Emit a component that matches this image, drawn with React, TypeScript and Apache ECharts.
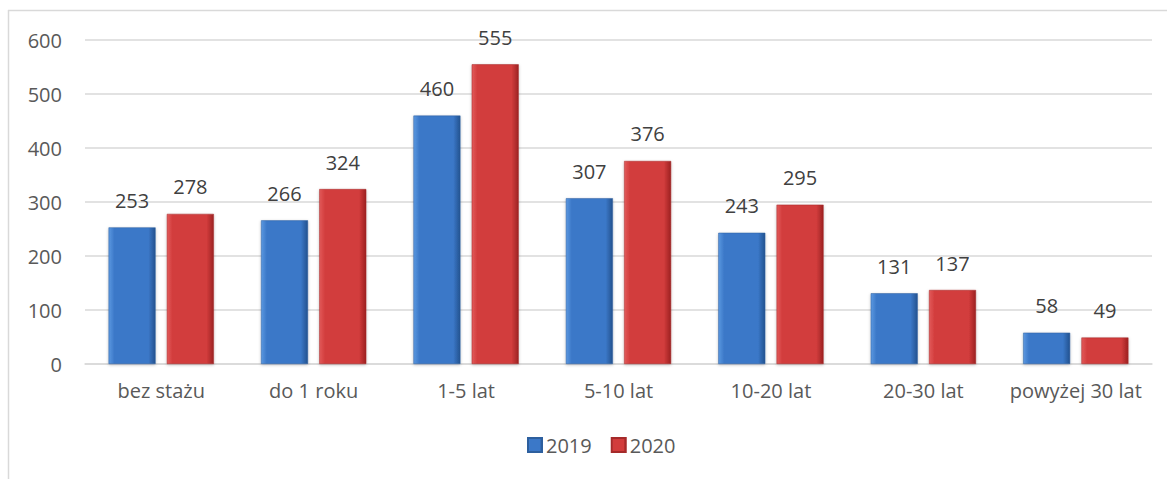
import React, { useEffect, useRef } from "react";
import * as echarts from "echarts";

const categories = ["bez stażu", "do 1 roku", "1-5 lat", "5-10 lat", "10-20 lat", "20-30 lat", "powyżej 30 lat"];
const values2019 = [253, 266, 460, 307, 243, 131, 58];
const values2020 = [278, 324, 555, 376, 295, 137, 49];
const seriesNames = ["2019", "2020"];

const FONT = "'Open Sans', sans-serif";

function barGradient(light: string, base: string, dark: string) {
  return new echarts.graphic.LinearGradient(0, 0, 1, 0, [
    { offset: 0, color: light },
    { offset: 0.12, color: base },
    { offset: 0.85, color: base },
    { offset: 1, color: dark },
  ]);
}

export default function App() {
  const ref = useRef<HTMLDivElement>(null);
  useEffect(() => {
    const chart = echarts.init(ref.current!, null, { renderer: "svg" });
    const labelCfg = {
      show: true,
      position: "top" as const,
      distance: 17,
      color: "#404040",
      fontSize: 20,
      fontFamily: FONT,
    };
    chart.setOption({
      animation: false,
      backgroundColor: "#ffffff",
      textStyle: { fontFamily: FONT },
      graphic: [
        { type: "line", shape: { x1: 8, y1: 10.5, x2: 1167, y2: 10.5 }, style: { stroke: "#d9d9d9", lineWidth: 1.5 } },
        { type: "line", shape: { x1: 8.5, y1: 10, x2: 8.5, y2: 479 }, style: { stroke: "#d9d9d9", lineWidth: 1.5 } },
      ],
      grid: { left: 85, right: 15, top: 40, bottom: 115, containLabel: false },
      legend: {
        data: seriesNames,
        top: 430,
        left: 522,
        itemWidth: 14,
        itemHeight: 14,
        itemGap: 19,
        icon: "rect",
        textStyle: { fontSize: 20, color: "#595959", fontFamily: FONT, padding: [0, 0, 0, -1] },
      },
      xAxis: {
        type: "category",
        data: categories,
        axisTick: { show: false },
        axisLine: { show: true, lineStyle: { color: "#d9d9d9", width: 1.5 } },
        axisLabel: { color: "#595959", fontSize: 20, fontFamily: FONT, margin: 16, interval: 0 },
      },
      yAxis: {
        type: "value",
        min: 0,
        max: 600,
        interval: 100,
        axisLine: { show: false },
        axisTick: { show: false },
        splitLine: { lineStyle: { color: "#d9d9d9", width: 1.5 } },
        axisLabel: { color: "#595959", fontSize: 20, fontFamily: FONT, margin: 23 },
      },
      series: [
        {
          name: seriesNames[0],
          type: "bar",
          data: values2019,
          barWidth: 47,
          barGap: "24%",
          itemStyle: {
            color: barGradient("#5b98e0", "#3b78c8", "#23528f"),
            borderColor: "#2d5f9e",
            borderWidth: 0.5,
            shadowColor: "rgba(0,0,0,0.25)",
            shadowBlur: 3,
            shadowOffsetY: 1,
          },
          label: labelCfg,
        },
        {
          name: seriesNames[1],
          type: "bar",
          data: values2020,
          barWidth: 47,
          barGap: "24%",
          itemStyle: {
            color: barGradient("#e25a5a", "#d23c3c", "#9c2222"),
            borderColor: "#a52a2a",
            borderWidth: 0.5,
            shadowColor: "rgba(0,0,0,0.25)",
            shadowBlur: 3,
            shadowOffsetY: 1,
          },
          label: labelCfg,
        },
      ],
    });
    return () => chart.dispose();
  }, []);
  return (
    <div style={{ position: "fixed", left: 0, top: 0 }}>
      <div ref={ref} style={{ width: 1167, height: 479 }} />
    </div>
  );
}
